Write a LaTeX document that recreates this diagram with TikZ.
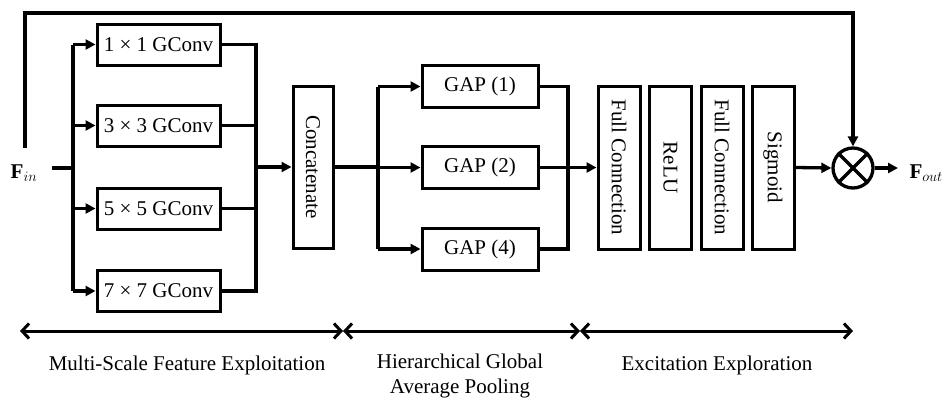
\documentclass[tikz,border=0pt]{standalone}
\usepackage{fontspec}
\setmainfont{Liberation Serif}
\usetikzlibrary{arrows.meta,calc}
\begin{document}
\begin{tikzpicture}[x=1pt,y=-1pt,
  every node/.style={font=\fontsize{21}{25}\selectfont},
  blk/.style={draw,line width=3pt,inner sep=0pt,minimum width=#1},
  hbox/.style={blk=123pt,minimum height=41pt},
  gbox/.style={blk=116pt,minimum height=42pt},
  vbox/.style={draw,line width=3pt,inner sep=0pt,minimum width=42pt,minimum height=163pt},
  conn/.style={line width=3.3pt},
  arr/.style={conn,-{Triangle[length=10pt,width=10pt]}},
  span/.style={line width=3pt,{Straight Barb[length=7pt,width=15pt]}-{Straight Barb[length=7pt,width=15pt]}}
]
\useasboundingbox (0,0) rectangle (947,399);

% input
\node (fin) at (24,173) {$\mathbf{F}_{in}$};
\coordinate (inS) at (52,168);
\coordinate (b1) at (73,168);
\coordinate (skipS) at (25,148);

% GConv boxes
\node[hbox] (g1) at (158.5,44.5) {1 × 1 GConv};
\node[hbox] (g2) at (158.5,125.5) {3 × 3 GConv};
\node[hbox] (g3) at (158.5,208.5) {5 × 5 GConv};
\node[hbox] (g4) at (158.5,291) {7 × 7 GConv};

\node[draw,line width=3pt,inner sep=0pt,minimum width=40pt,minimum height=162pt] (cat) at (313,167) {};
\node[rotate=-90] at (cat.center) {Concatenate};

% GAP boxes
\node[gbox] (p1) at (480,86.5) {GAP (1)};
\node[gbox] (p2) at (480,167.5) {GAP (2)};
\node[gbox] (p4) at (480,249) {GAP (4)};

% Excitation boxes
\node[vbox] (fc1) at (619,167.5) {};
\node[rotate=-90] at (fc1.center) {Full Connection};
\node[vbox] (relu) at (670.5,167.5) {};
\node[rotate=-90] at (relu.center) {ReLU};
\node[vbox] (fc2) at (722,167.5) {};
\node[rotate=-90] at (fc2.center) {Full Connection};
\node[vbox] (sig) at (773,167.5) {};
\node[rotate=-90] at (sig.center) {Sigmoid};

% multiplication
\node[draw,circle,line width=3.3pt,minimum size=40pt,inner sep=0pt] (mul) at (853,168) {};
\draw[line width=3.3pt] (mul.north west) -- (mul.south east) (mul.north east) -- (mul.south west);
\node[anchor=west] (fout) at (906,173) {$\mathbf{F}_{out}$};

% connectors: stage 1
\draw[conn] (inS) -- (b1);
\draw[conn] (73,44.5) -- (73,291);
\draw[arr] (73,44.5) -- (g1.west);
\draw[arr] (73,125.5) -- (g2.west);
\draw[arr] (73,208.5) -- (g3.west);
\draw[arr] (73,291) -- (g4.west);
\draw[conn] (g1.east) -- (256,44.5) -- (256,291) -- (g4.east);
\draw[conn] (g2.east) -- (256,125.5);
\draw[conn] (g3.east) -- (256,208.5);
\draw[arr] (256,167) -- (cat.west);

% stage 2
\draw[conn] (cat.east) -- (378,167);
\draw[conn] (378,86.5) -- (378,249);
\draw[arr] (378,86.5) -- (p1.west);
\draw[arr] (378,167.5) -- (p2.west);
\draw[arr] (378,249) -- (p4.west);
\draw[conn] (p1.east) -- (568,86.5) -- (568,249) -- (p4.east);
\draw[arr] (p2.east) -- (fc1.west);

% stage 3
\draw[arr] (sig.east) -- (mul.west);
\draw[arr] (mul.east) -- (898,168);
\draw[arr] (skipS) -- (25,13) -- (853,13) -- (mul.north);

% bottom spans
\coordinate (s0) at (20,331);
\coordinate (s1) at (343,331);
\coordinate (s2) at (580,331);
\coordinate (s3) at (853,331);
\draw[span] (s0) -- (s1);
\draw[span] (s1) -- (s2);
\draw[span] (s2) -- (s3);
\node (l1) at (187,365) {Multi-Scale Feature Exploitation};
\node[align=center] (l2) at (460,376) {Hierarchical Global\\Average Pooling};
\node (l3) at (717,365) {Excitation Exploration};
\end{tikzpicture}
\end{document}
